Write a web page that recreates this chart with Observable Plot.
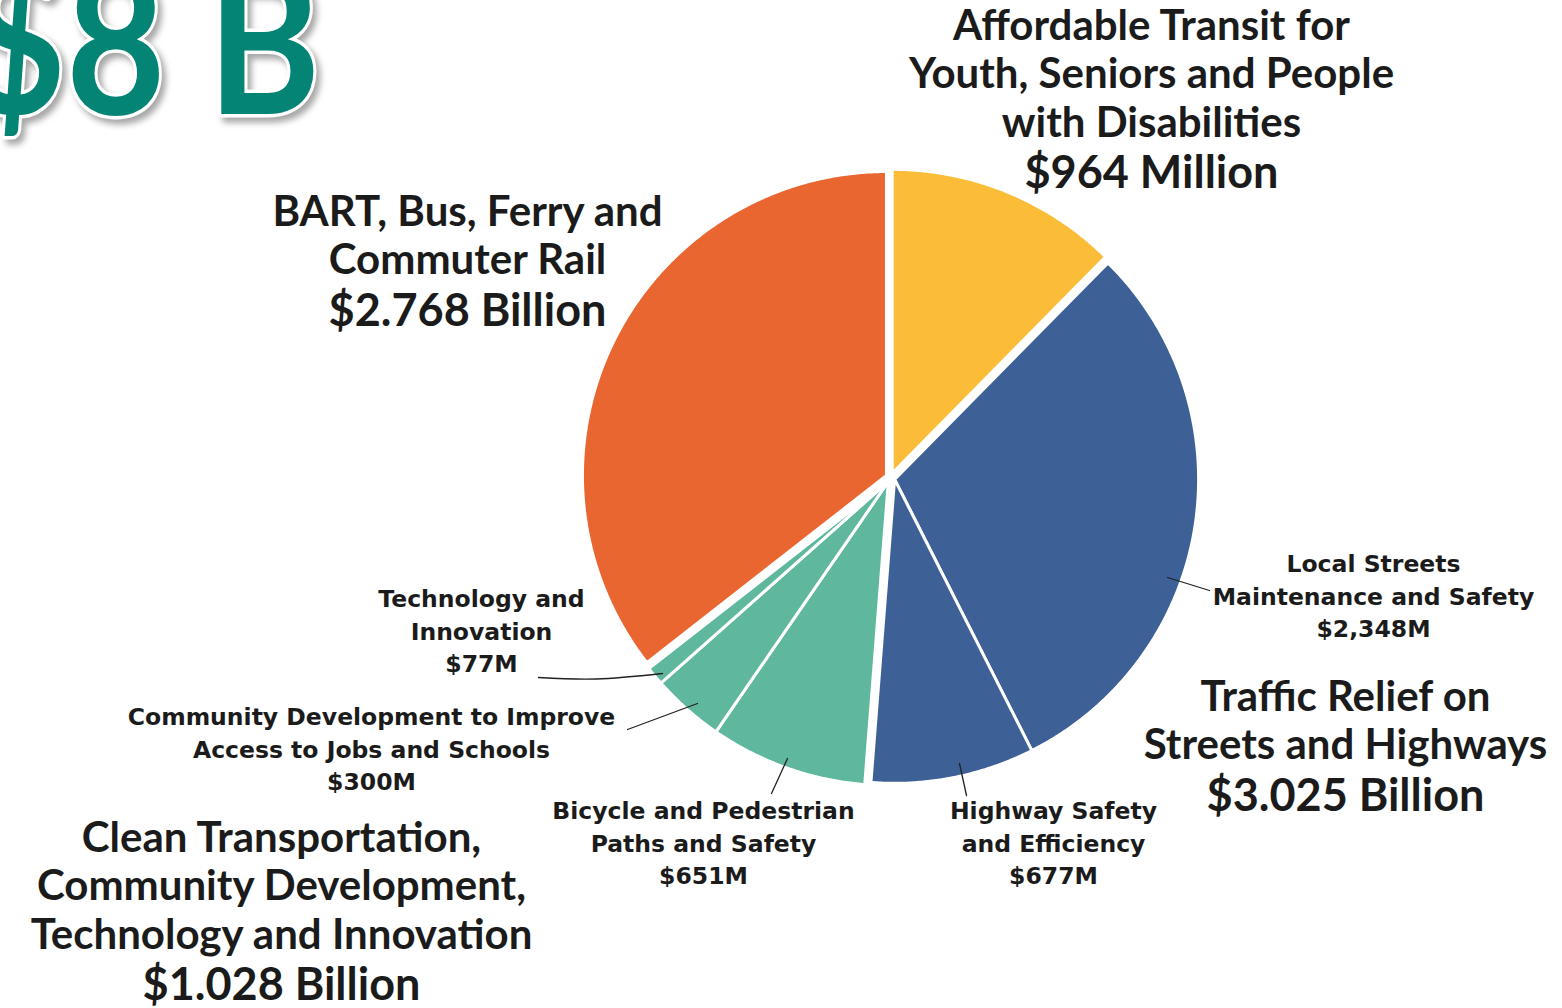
<!DOCTYPE html>
<html>
<head>
<meta charset="utf-8">
<script src="https://cdn.jsdelivr.net/npm/d3@7"></script>
<script src="https://cdn.jsdelivr.net/npm/@observablehq/plot@0.6"></script>
<style>
  html, body { margin: 0; padding: 0; background: #ffffff; overflow: hidden; }
  #chart svg { display: block; }
</style>
</head>
<body>
<div id="chart"></div>
<script>
// ---------- data ----------
const categories = [
  "Affordable Transit for Youth, Seniors and People with Disabilities",
  "Local Streets Maintenance and Safety",
  "Highway Safety and Efficiency",
  "Bicycle and Pedestrian Paths and Safety",
  "Community Development to Improve Access to Jobs and Schools",
  "Technology and Innovation",
  "BART, Bus, Ferry and Commuter Rail"
];
const amounts = [964, 2348, 677, 651, 300, 77, 2768]; // $ million
const categoryGroup = ["transit", "streets", "streets", "clean", "clean", "clean", "bart"];

const groups = ["transit", "streets", "clean", "bart"];
const groupColors = ["#FBBC37", "#3D6196", "#5FB89D", "#E96631"];
const groupTitles = [
  ["Affordable Transit for", "Youth, Seniors and People", "with Disabilities"],
  ["Traffic Relief on", "Streets and Highways"],
  ["Clean Transportation,", "Community Development,", "Technology and Innovation"],
  ["BART, Bus, Ferry and", "Commuter Rail"]
];
const groupTotals = ["$964 Million", "$3.025 Billion", "$1.028 Billion", "$2.768 Billion"];

const sliceTitles = [
  null,
  ["Local Streets", "Maintenance and Safety"],
  ["Highway Safety", "and Efficiency"],
  ["Bicycle and Pedestrian", "Paths and Safety"],
  ["Community Development to Improve", "Access to Jobs and Schools"],
  ["Technology and", "Innovation"],
  null
];
const sliceValues = [null, "$2,348M", "$677M", "$651M", "$300M", "$77M", null];
const headline = "$8 B";

// ---------- layout (pixels) ----------
const W = 1562, H = 1008;
const CX = 890, CY = 477, R = 304, EXPLODE = 4.5;
const groupLabelPos = [[1151, 26], [1345, 697], [281, 838], [467, 212]];
const groupLabelGap = 48.5;
const sliceLabelPos = [null, [1373, 564], [1053, 811], [703, 811], [371, 717], [481, 599], null];
const sliceLabelGap = 32.5;
const leaderFrom = [null, [1167, 577], [959, 763], [787, 758], [697, 703], [662, 673], null];
const leaderTo   = [null, [1209, 590], [966, 795], [771, 793], [627, 729], [538, 677], null];

// ---------- pie geometry from amounts ----------
const total = d3.sum(amounts);
const cum = d3.cumsum(amounts);
const deg = Math.PI / 180;
const groupSpan = groups.map(g => {
  const idx = d3.range(amounts.length).filter(i => categoryGroup[i] === g);
  const a0 = (idx[0] === 0 ? 0 : cum[idx[0] - 1]) / total * 2 * Math.PI;
  const a1 = cum[idx[idx.length - 1]] / total * 2 * Math.PI;
  return [a0, a1];
});

const slicePoints = [];
amounts.forEach((v, i) => {
  const a0 = (i === 0 ? 0 : cum[i - 1]) / total * 2 * Math.PI;
  const a1 = cum[i] / total * 2 * Math.PI;
  const gi = groups.indexOf(categoryGroup[i]);
  const gm = (groupSpan[gi][0] + groupSpan[gi][1]) / 2;
  const ox = CX + EXPLODE * Math.sin(gm), oy = CY - EXPLODE * Math.cos(gm);
  const color = groupColors[gi];
  slicePoints.push({slice: categories[i], x: ox, y: oy, color});
  const n = Math.max(2, Math.ceil((a1 - a0) / (0.4 * deg)));
  for (let k = 0; k <= n; k++) {
    const a = a0 + (a1 - a0) * k / n;
    slicePoints.push({slice: categories[i], x: ox + R * Math.sin(a), y: oy - R * Math.cos(a), color});
  }
});

// ---------- labels ----------
const bigText = [];
groups.forEach((g, gi) => {
  const [x, y] = groupLabelPos[gi];
  groupTitles[gi].forEach((t, k) => bigText.push({text: t, x, y: y + k * groupLabelGap, size: 42}));
  bigText.push({text: groupTotals[gi], x, y: y + groupTitles[gi].length * groupLabelGap + 2, size: 45});
});
const smallText = [];
const leaders = [];
categories.forEach((c, i) => {
  if (!sliceTitles[i]) return;
  const [x, y] = sliceLabelPos[i];
  sliceTitles[i].forEach((t, k) => smallText.push({text: t, x, y: y + k * sliceLabelGap}));
  smallText.push({text: sliceValues[i], x, y: y + sliceTitles[i].length * sliceLabelGap});
});
categories.forEach((c, i) => {
  if (!leaderFrom[i] || i === 5) return;
  leaders.push({slice: c, x: leaderFrom[i][0], y: leaderFrom[i][1]});
  leaders.push({slice: c, x: leaderTo[i][0], y: leaderTo[i][1]});
});
const techLeader = [
  {x: leaderFrom[5][0], y: leaderFrom[5][1]},
  {x: (leaderFrom[5][0] + leaderTo[5][0]) / 2 - 4, y: (leaderFrom[5][1] + leaderTo[5][1]) / 2 + 3.5},
  {x: leaderTo[5][0], y: leaderTo[5][1]}
];

const plot = Plot.plot({
  width: W,
  height: H,
  margin: 0,
  x: {domain: [0, W], range: [0, W], axis: null},
  y: {domain: [0, H], range: [0, H], axis: null},
  style: {background: "#ffffff", overflow: "visible"},
  marks: [
    Plot.line(slicePoints, {
      x: "x", y: "y", z: "slice", fill: "color",
      stroke: "white", strokeWidth: 3, strokeLinejoin: "round", curve: "linear-closed"
    }),
    Plot.line(leaders, {x: "x", y: "y", z: "slice", stroke: "#222", strokeWidth: 1.3}),
    Plot.line(techLeader, {x: "x", y: "y", stroke: "#222", strokeWidth: 1.3, curve: "natural"}),
    Plot.text(bigText, {
      x: "x", y: "y", text: "text", fontSize: "size",
      fontFamily: "Lato", fontWeight: "bold", fill: "#1b1b1b", textAnchor: "middle"
    }),
    Plot.text(smallText, {
      x: "x", y: "y", text: "text", fontSize: 23.5,
      fontFamily: "DejaVu Sans", fontWeight: "bold", fill: "#1b1b1b", textAnchor: "middle"
    }),
    Plot.text([headline], {
      frameAnchor: "top-left", dx: -34, dy: 113, lineAnchor: "bottom",
      text: d => d, fontSize: 200, fontFamily: "Lato", fontWeight: "bold",
      fill: "#038474", stroke: "white", strokeWidth: 7, paintOrder: "stroke",
      textAnchor: "start"
    })
  ]
});
document.getElementById("chart").appendChild(plot);

// headline: condensed display type with a soft shadow, as in the reference
d3.select(plot).selectAll("g[aria-label=text] text").filter(function() { return this.textContent === headline; })
  .attr("textLength", 354).attr("lengthAdjust", "spacingAndGlyphs")
  .style("filter", "drop-shadow(4px 5px 3px rgba(0,0,0,0.35))");
</script>
</body>
</html>
